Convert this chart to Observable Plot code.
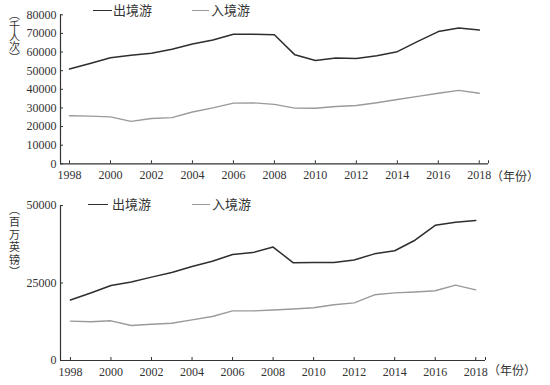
<!DOCTYPE html>
<html>
<head>
<meta charset="utf-8">
<script src="https://cdn.jsdelivr.net/npm/d3@7"></script>
<script src="https://cdn.jsdelivr.net/npm/@observablehq/plot@0.6"></script>
<style>
  html, body { margin: 0; padding: 0; background: #fff; }
  #wrap { position: relative; width: 550px; height: 385px; overflow: hidden; background: #fff; }
  .lg { position: absolute; font-family: "Noto Sans CJK SC", sans-serif; font-size: 13px; color: #333; line-height: 1; white-space: nowrap; }
  .sw { position: absolute; height: 0; }
  .vlab { position: absolute; width: 11px; font-family: "Noto Sans CJK SC", sans-serif; font-size: 11px; color: #333; text-align: center; word-break: break-all; overflow-wrap: anywhere; }
  .unit { position: absolute; font-family: "Noto Sans CJK SC", sans-serif; font-size: 12px; color: #333; line-height: 1; white-space: nowrap; }
</style>
</head>
<body>
<div id="wrap"></div>
<script>
// ---- data ----
const years = [1998, 1999, 2000, 2001, 2002, 2003, 2004, 2005, 2006, 2007, 2008, 2009, 2010, 2011, 2012, 2013, 2014, 2015, 2016, 2017, 2018];
const seriesNames = ["出境游", "入境游"];
// top panel: visits (千人次)
const visitsOut = [50900, 53900, 56900, 58300, 59400, 61500, 64300, 66500, 69600, 69500, 69300, 58500, 55500, 56800, 56500, 58000, 60200, 65700, 71000, 72900, 71800];
const visitsIn  = [25800, 25600, 25200, 22800, 24300, 24800, 27800, 30000, 32600, 32700, 31900, 29900, 29800, 30800, 31300, 32800, 34500, 36200, 37900, 39400, 37900];
// bottom panel: spending (百万英镑)
const spendOut = [19500, 21800, 24200, 25300, 26900, 28400, 30300, 32000, 34200, 34800, 36600, 31500, 31600, 31600, 32400, 34400, 35400, 38800, 43600, 44600, 45200];
const spendIn  = [12700, 12500, 12800, 11300, 11700, 12000, 13100, 14200, 16000, 16000, 16300, 16600, 17000, 18000, 18600, 21200, 21800, 22100, 22500, 24300, 22800];
const xTicks = [1998, 2000, 2002, 2004, 2006, 2008, 2010, 2012, 2014, 2016, 2018];
const yTicksTop = [0, 10000, 20000, 30000, 40000, 50000, 60000, 70000, 80000];
const yTicksBottom = [0, 25000, 50000];
const unitTop = "︵千人次︶";
const unitBottom = "︵百万英镑︶";
const unitX = "（年份）";

const colors = {"出境游": "#2e2e2e", "入境游": "#9a9a9a"};
const serif = "'Liberation Serif', 'DejaVu Serif', serif";

function panel({height, marginTop, marginBottom, marginRight, xDomain, yDomain, yTicks, out, inn}) {
  const marginLeft = 60, width = 550;
  const frameW = width - marginLeft - marginRight;
  const frameH = height - marginTop - marginBottom;
  return Plot.plot({
    width, height, marginLeft, marginRight, marginTop, marginBottom,
    style: {background: "#fff", color: "#333", fontFamily: serif, fontSize: "12px", overflow: "visible"},
    x: {domain: xDomain},
    y: {domain: yDomain},
    marks: [
      Plot.axisY(yTicks, {tickSize: 0, tickPadding: 4, fontSize: 12, fontFamily: serif, fill: "#333", label: null, tickFormat: d => String(d)}),
      Plot.axisX(xTicks, {tickSize: 0, tickPadding: 7, fontSize: 12, fontFamily: serif, fill: "#333", label: null, tickFormat: d => String(d)}),
      Plot.tickY(yTicks, {y: d => d, stroke: "#333", strokeWidth: 1, insetRight: frameW - 3}),
      Plot.tickX([...xTicks, xDomain[1]], {x: d => d, stroke: "#333", strokeWidth: 1, insetTop: frameH - 3}),
      Plot.ruleY([yDomain[0]], {stroke: "#333", strokeWidth: 1.2}),
      Plot.ruleX([xDomain[0]], {stroke: "#333", strokeWidth: 1.2}),
      Plot.line(inn, {x: years, y: d => d, stroke: colors["入境游"], strokeWidth: 1.4}),
      Plot.line(out, {x: years, y: d => d, stroke: colors["出境游"], strokeWidth: 1.5})
    ]
  });
}

const wrap = document.getElementById("wrap");

const top1 = panel({height: 190, marginTop: 14.3, marginBottom: 26.7, marginRight: 62,
  xDomain: [1997.56, 2018.45], yDomain: [0, 80000], yTicks: yTicksTop, out: visitsOut, inn: visitsIn});
top1.style.position = "absolute"; top1.style.left = "0px"; top1.style.top = "0px";
wrap.appendChild(top1);

const bot = panel({height: 195, marginTop: 15, marginBottom: 25, marginRight: 65,
  xDomain: [1997.51, 2018.48], yDomain: [0, 50000], yTicks: yTicksBottom, out: spendOut, inn: spendIn});
bot.style.position = "absolute"; bot.style.left = "0px"; bot.style.top = "190px";
wrap.appendChild(bot);

function addEl(cls, text, styles) {
  const el = document.createElement("div");
  el.className = cls;
  if (text) el.textContent = text;
  Object.assign(el.style, styles);
  wrap.appendChild(el);
  return el;
}

// legends
function legend(top, items) {
  items.forEach(({name, x0, x1, tx}) => {
    addEl("sw", "", {left: x0 + "px", top: top + "px", width: (x1 - x0) + "px", borderTop: `1.5px solid ${colors[name]}`});
    addEl("lg", name, {left: tx + "px", top: (top - 7) + "px"});
  });
}
legend(10, [
  {name: seriesNames[0], x0: 93, x1: 112, tx: 113},
  {name: seriesNames[1], x0: 192, x1: 209, tx: 211}
]);
legend(204, [
  {name: seriesNames[0], x0: 88, x1: 108, tx: 112},
  {name: seriesNames[1], x0: 192, x1: 210, tx: 212}
]);

// vertical unit labels (one text block each, one glyph per line)
addEl("vlab", unitTop, {left: "9px", top: "9px", lineHeight: "10.8px"});
addEl("vlab", unitBottom, {left: "9px", top: "203px", lineHeight: "12.4px"});
addEl("unit", unitX, {left: "491px", top: "170px"});
addEl("unit", unitX, {left: "488px", top: "364px"});
</script>
</body>
</html>
